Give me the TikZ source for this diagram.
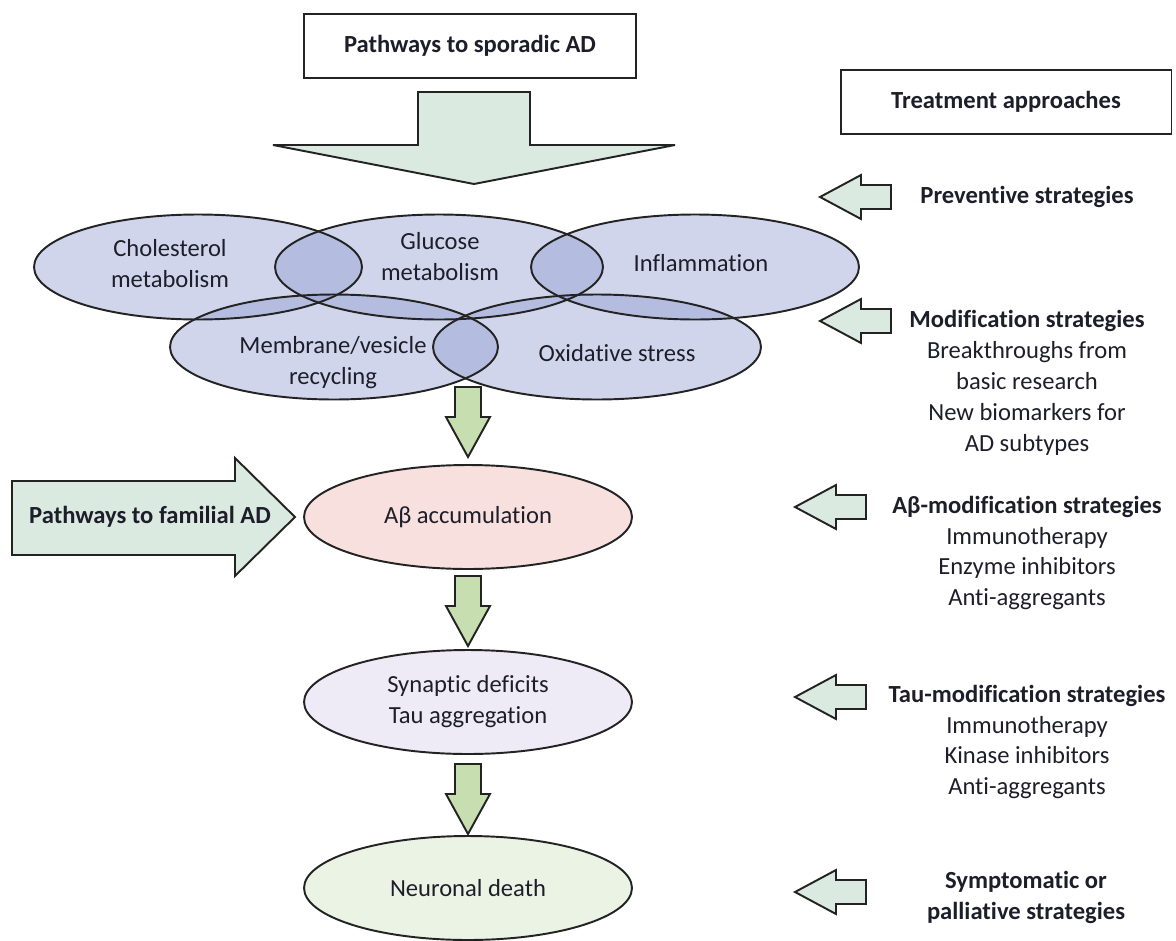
\documentclass[tikz,border=0pt]{standalone}
\usepackage{fontspec}
\setmainfont{Carlito}[Ligatures=NoCommon]
\usetikzlibrary{shapes.geometric}

\definecolor{inkcol}{RGB}{30,30,42}
\definecolor{edgecol}{RGB}{35,35,35}
\definecolor{lensblue}{RGB}{137,150,205}
\definecolor{paleflow}{RGB}{218,234,224}
\definecolor{leafgreen}{RGB}{199,223,176}
\definecolor{abpink}{RGB}{248,224,222}
\definecolor{taulilac}{RGB}{238,234,246}
\definecolor{deathgreen}{RGB}{234,243,228}

\tikzset{
  every node/.style={text=inkcol, font=\fontsize{14}{17.6}\selectfont},
  headbox/.style={draw=edgecol, line width=1.1pt, fill=white, minimum width=6.64cm, minimum height=1.28cm, font=\fontsize{14}{17.6}\selectfont\bfseries},
  vennring/.style={ellipse, draw=edgecol, line width=1.1pt, minimum width=6.56cm, minimum height=2.1cm, inner sep=0pt},
  venntext/.style={align=center},
  stage/.style={ellipse, draw=edgecol, line width=1.1pt, minimum width=6.56cm, minimum height=2.08cm, inner sep=0pt, align=center},
  flowarrow/.style={draw=edgecol, line width=1.1pt, fill=leafgreen, line join=miter},
  bigarrow/.style={draw=edgecol, line width=1.1pt, fill=paleflow, line join=miter},
  treatnote/.style={align=center}
}

\begin{document}
\begin{tikzpicture}[x=0.02cm, y=-0.02cm]
\useasboundingbox (0,0) rectangle (1176,940);

% heading boxes
\node[headbox] (sporadic) at (470,46) {Pathways to sporadic AD};
\node[headbox, minimum width=6.62cm] (treat) at (1006,102) {Treatment approaches};

% big arrow into the pathways
\filldraw[bigarrow] (418,92) -- (530,92) -- (530,145) -- (675,145) -- (474,184) -- (273,145) -- (418,145) -- cycle;

% overlapping pathways
\foreach \cx/\cy in {198/267, 439/267, 695/267, 334/347, 597/347}
  \fill[lensblue, fill opacity=0.4] (\cx,\cy) ellipse [x radius=164, y radius=52.5];
\node[vennring] (chol) at (198,267) {};
\node[vennring] (gluc) at (439,267) {};
\node[vennring] (infl) at (695,267) {};
\node[vennring] (memb) at (334,347) {};
\node[vennring] (oxid) at (597,347) {};
\node[venntext] (cholt) at (170,264) {Cholesterol\\metabolism};
\node[venntext] (gluct) at (440,257) {Glucose\\metabolism};
\node[venntext] (inflt) at (701,263) {Inflammation};
\node[venntext] (membt) at (333,363) {Membrane/vesicle\\recycling};
\node[venntext] (oxidt) at (617,353) {Oxidative stress};

% disease stages
\node[stage, fill=abpink] (abeta) at (468,517) {Aβ accumulation};
\node[stage, fill=taulilac] (synap) at (468,702) {Synaptic deficits\\Tau aggregation};
\node[stage, fill=deathgreen] (death) at (468,888) {Neuronal death};

\foreach \t in {387,576,764}
  \filldraw[flowarrow] (455,\t) -- (481,\t) -- (481,\t+30) -- (490,\t+30) -- (468,\t+70) -- (446,\t+30) -- (455,\t+30) -- cycle;

% familial route
\filldraw[bigarrow] (12,481) -- (235,481) -- (235,458) -- (295,517) -- (235,576) -- (235,555) -- (12,555) -- cycle;
\node[font=\fontsize{14}{17.6}\selectfont\bfseries] (familial) at (150,517) {Pathways to familial AD};

% treatment side
\foreach \x/\y in {820/197, 820/321, 795/507, 795/697, 795/892}
  \filldraw[bigarrow] (\x,\y) -- (\x+41,\y-22) -- (\x+41,\y-12) -- (\x+71,\y-12) -- (\x+71,\y+12) -- (\x+41,\y+12) -- (\x+41,\y+22) -- cycle;

\node[treatnote] (prev) at (1027,197) {\bfseries Preventive strategies};
\node[treatnote] (modif) at (1027,383) {\textbf{Modification strategies}\\Breakthroughs from\\basic research\\New biomarkers for\\AD subtypes};
\node[treatnote] (abmod) at (1027,553) {\textbf{Aβ-modification strategies}\\Immunotherapy\\Enzyme inhibitors\\Anti-aggregants};
\node[treatnote] (taumod) at (1027,742) {\textbf{Tau-modification strategies}\\Immunotherapy\\Kinase inhibitors\\Anti-aggregants};
\node[treatnote, font=\fontsize{14}{17.6}\selectfont\bfseries] (sympt) at (1026,897) {Symptomatic or\\palliative strategies};
\end{tikzpicture}
\end{document}
